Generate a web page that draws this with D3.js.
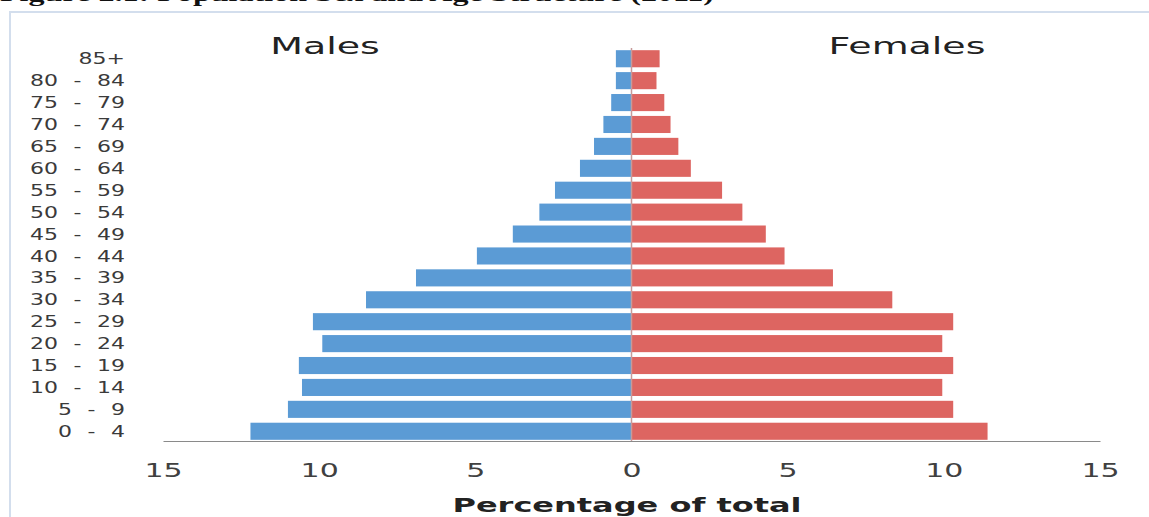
<!DOCTYPE html>
<html>
<head>
<meta charset="utf-8">
<script src="https://cdn.jsdelivr.net/npm/d3@7"></script>
<style>
  body { margin: 0; background: #fff; }
  svg { display: block; }
</style>
</head>
<body>
<script>
// age groups, top to bottom as in the picture
var ageGroups = ["85+", "80 - 84", "75 - 79", "70 - 74", "65 - 69", "60 - 64", "55 - 59",
  "50 - 54", "45 - 49", "40 - 44", "35 - 39", "30 - 34", "25 - 29", "20 - 24",
  "15 - 19", "10 - 14", "5 - 9", "0 - 4"];
// percentage of total
var males   = [0.5, 0.5, 0.65, 0.9, 1.2, 1.65, 2.45, 2.95, 3.8, 4.95, 6.9, 8.5, 10.2, 9.9, 10.65, 10.55, 11.0, 12.2];
var females = [0.9, 0.8, 1.05, 1.25, 1.5, 1.9, 2.9, 3.55, 4.3, 4.9, 6.45, 8.35, 10.3, 9.95, 10.3, 9.95, 10.3, 11.4];
var xTicks = [-15, -10, -5, 0, 5, 10, 15];

const w = 1149;
const h = 517;

// the source picture is stretched sideways, so text gets a horizontal scale
function wideText(x, y, sx, size, txt) {
  return svg.append("text")
    .attr("transform", "translate(" + x + "," + y + ") scale(" + sx + ",1)")
    .attr("font-family", "DejaVu Sans")
    .attr("font-size", size)
    .text(txt);
}

const svg = d3.select("body").append("svg")
  .attr("width", w)
  .attr("height", h);

// clipped figure caption at the very top
svg.append("text")
  .attr("transform", "translate(0,1) scale(1.46,1)")
  .attr("font-family", "Liberation Serif")
  .attr("font-weight", "bold")
  .attr("font-size", 22)
  .attr("fill", "#111")
  .text("Figure 2.1: Population Sex and Age Structure (2011)");

// light frame
svg.append("path")
  .attr("d", "M10," + h + " V12 H" + w)
  .attr("fill", "none")
  .attr("stroke", "#d3deed")
  .attr("stroke-width", 2);

const xScale = d3.scaleLinear()
  .domain([-15, 15])
  .range([163, 1100]);

const yScale = d3.scaleBand()
  .domain(ageGroups)
  .range([48, 442])
  .paddingInner(0.22)
  .paddingOuter(0.1);

// males to the left
svg.selectAll("rect.m")
  .data(males)
  .enter()
  .append("rect")
  .attr("class", "m")
  .attr("x", d => xScale(-d))
  .attr("y", (d, i) => yScale(ageGroups[i]))
  .attr("width", d => xScale(0) - xScale(-d))
  .attr("height", yScale.bandwidth())
  .attr("fill", "#5b9bd5");

// females to the right
svg.selectAll("rect.f")
  .data(females)
  .enter()
  .append("rect")
  .attr("class", "f")
  .attr("x", xScale(0))
  .attr("y", (d, i) => yScale(ageGroups[i]))
  .attr("width", d => xScale(d) - xScale(0))
  .attr("height", yScale.bandwidth())
  .attr("fill", "#dd6561");

// centre line
svg.append("line")
  .attr("x1", xScale(0)).attr("x2", xScale(0))
  .attr("y1", 48).attr("y2", 441)
  .attr("stroke", "#c79a9a")
  .attr("stroke-width", 1.5);

// bottom axis, numbers shown without sign
const xAxis = d3.axisBottom(xScale)
  .tickValues(xTicks)
  .tickFormat(d => Math.abs(d))
  .tickSize(0)
  .tickPadding(22);

const gx = svg.append("g")
  .attr("transform", "translate(0," + 441 + ")")
  .call(xAxis);
gx.select(".domain").attr("stroke", "#8a8a8a").attr("stroke-width", 1.2);
gx.selectAll("text")
  .attr("transform", "scale(1.5,1)")
  .attr("font-family", "DejaVu Sans")
  .attr("font-size", 20)
  .attr("fill", "#404040");

// age labels on the left
svg.selectAll("text.age")
  .data(ageGroups)
  .enter()
  .append("text")
  .attr("class", "age")
  .attr("transform", d => "translate(125," + (yScale(d) + yScale.bandwidth() / 2) + ") scale(1.42,1)")
  .attr("dy", "0.36em")
  .attr("text-anchor", "end")
  .attr("font-family", "DejaVu Sans")
  .attr("font-size", 15.5)
  .attr("word-spacing", 6)
  .attr("fill", "#3a3a3a")
  .text(d => d);

// Males / Females headers
wideText(325, 54, 1.65, 23, "Males")
  .attr("text-anchor", "middle")
  .attr("fill", "#222");
wideText(907, 54, 1.65, 23, "Females")
  .attr("text-anchor", "middle")
  .attr("fill", "#222");

// axis title
wideText(627, 512, 1.6, 20, "Percentage of total")
  .attr("text-anchor", "middle")
  .attr("font-weight", "bold")
  .attr("fill", "#222");
</script>
</body>
</html>
